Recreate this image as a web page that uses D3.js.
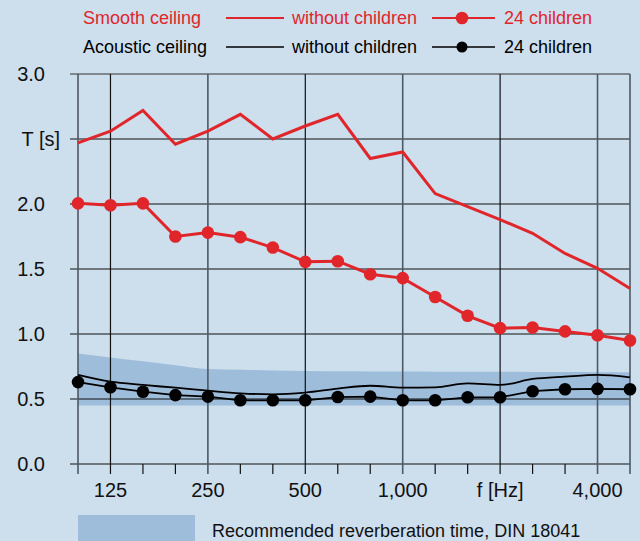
<!DOCTYPE html>
<meta charset="utf-8" />
<script src="https://d3js.org/d3.v7.min.js"></script>
<body style="margin:0;background:#cddeed">
<svg id="chart" width="640" height="541" style="display:block"></svg>
<script>
/* ── DATA ── */
const freqs = [100,125,160,200,250,315,400,500,630,800,1000,1250,1600,2000,2500,3150,4000,5000];
const smoothEmpty = [2.47,2.56,2.72,2.46,2.56,2.69,2.50,2.60,2.69,2.35,2.40,2.08,1.98,1.88,1.775,1.62,1.505,1.35];
const smoothKids  = [2.005,1.99,2.005,1.75,1.78,1.745,1.665,1.555,1.56,1.46,1.43,1.285,1.14,1.045,1.05,1.02,0.99,0.95];
const acousticEmpty = [0.685,0.633,0.608,0.587,0.564,0.544,0.536,0.549,0.58,0.602,0.587,0.59,0.62,0.608,0.654,0.672,0.685,0.667];
const acousticKids  = [0.63,0.59,0.556,0.53,0.518,0.49,0.49,0.49,0.515,0.518,0.49,0.49,0.513,0.513,0.56,0.575,0.578,0.575];
const dinUpper = [0.85,0.82,0.79,0.76,0.73,0.725,0.72,0.715,0.713,0.712,0.711,0.71,0.71,0.709,0.708,0.707,0.706,0.705];
const dinLower = 0.45;
const yTicks = [0,0.5,1,1.5,2,2.5,3];
const yLabels = ["0.0","0.5","1.0","1.5","2.0","T [s]","3.0"];
const xGrid = [100,125,250,500,1000,2000,4000,5000];
const xLabels = [[125,"125"],[250,"250"],[500,"500"],[1000,"1,000"],[2000,"f [Hz]"],[4000,"4,000"]];

/* ── CONFIG ── */
const red = "#e0262a", blk = "#000", bg = "#cddeed", band = "#9dbddb";
const font = "'Liberation Sans', Arial, sans-serif";

const svg = d3.select("#chart").style("font-family", font);
const x = d3.scalePoint().domain(freqs).range([78,630]);
const y = d3.scaleLinear().domain([0,3]).range([464,74]);

/* DIN band */
svg.append("path")
  .datum(freqs.map((f,i)=>({f,u:dinUpper[i]})))
  .attr("fill", band)
  .attr("d", d3.area().x(d=>x(d.f)).y0(y(dinLower)).y1(d=>y(d.u)).curve(d3.curveMonotoneX));

/* grid */
svg.append("g").selectAll("line").data(yTicks).join("line")
  .attr("x1",70).attr("x2",630).attr("y1",d=>y(d)).attr("y2",d=>y(d))
  .attr("stroke",(d)=>d===3?"#333":"#111").attr("stroke-width",1.2);

svg.append("g").selectAll("line").data(freqs).join("line")
  .attr("x1",d=>x(d)).attr("x2",d=>x(d))
  .attr("y1",d=>xGrid.includes(d)?y(3):y(0)).attr("y2",y(0)+10)
  .attr("stroke",d=>[100,250,1000,4000,5000].includes(d)?"#4d5964":"#111")
  .attr("stroke-width",d=>[100,250,1000,4000,5000].includes(d)?1.6:1.2);

/* y labels */
svg.append("g").selectAll("text").data(yTicks).join("text")
  .attr("x",(d,i)=>yLabels[i]==="T [s]"?60:45).attr("y",d=>y(d)+7)
  .attr("text-anchor","end").attr("font-size",20).attr("fill","#111")
  .text((d,i)=>yLabels[i]);

/* x labels */
svg.append("g").selectAll("text").data(xLabels).join("text")
  .attr("x",d=>x(d[0])).attr("y",497)
  .attr("text-anchor","middle").attr("font-size",20).attr("fill","#111")
  .text(d=>d[1]);

/* series */
const line = d3.line().x((d,i)=>x(freqs[i])).y(d=>y(d));
svg.append("path").datum(smoothEmpty).attr("fill","none").attr("stroke",red).attr("stroke-width",3)
  .attr("stroke-linejoin","miter").attr("d",line);
svg.append("path").datum(smoothKids).attr("fill","none").attr("stroke",red).attr("stroke-width",3).attr("d",line);
svg.append("g").selectAll("circle").data(smoothKids).join("circle")
  .attr("cx",(d,i)=>x(freqs[i])).attr("cy",d=>y(d)).attr("r",6.3).attr("fill",red);

svg.append("path").datum(acousticEmpty).attr("fill","none").attr("stroke",blk).attr("stroke-width",1.8)
  .attr("d",line.curve(d3.curveMonotoneX));
svg.append("path").datum(acousticKids).attr("fill","none").attr("stroke",blk).attr("stroke-width",1.8)
  .attr("d",d3.line().x((d,i)=>x(freqs[i])).y(d=>y(d)));
svg.append("g").selectAll("circle").data(acousticKids).join("circle")
  .attr("cx",(d,i)=>x(freqs[i])).attr("cy",d=>y(d)).attr("r",6.3).attr("fill",blk);

/* top legend */
const legRows = [
  {name:"Smooth ceiling", col:red, y:18, w:3},
  {name:"Acoustic ceiling", col:blk, y:47, w:1.8}
];
const lg = svg.append("g").attr("font-size",18);
legRows.forEach(r=>{
  lg.append("text").attr("x",83).attr("y",r.y+6).attr("fill",r.col).text(r.name);
  lg.append("line").attr("x1",226).attr("x2",284).attr("y1",r.y).attr("y2",r.y)
    .attr("stroke",r.col).attr("stroke-width",r.w*0.7);
  lg.append("text").attr("x",292).attr("y",r.y+6).attr("fill",r.col).text("without children");
  lg.append("line").attr("x1",432).attr("x2",495).attr("y1",r.y).attr("y2",r.y)
    .attr("stroke",r.col).attr("stroke-width",r.w*0.7);
  lg.append("circle").attr("cx",462).attr("cy",r.y).attr("r",r.col===red?6.3:5.5).attr("fill",r.col);
  lg.append("text").attr("x",504).attr("y",r.y+6).attr("fill",r.col).text("24 children");
});

/* bottom legend */
svg.append("rect").attr("x",78).attr("y",515).attr("width",117).attr("height",30).attr("fill",band);
svg.append("text").attr("x",212).attr("y",537).attr("font-size",18).attr("fill","#111")
  .text("Recommended reverberation time, DIN 18041");
</script>
</body>
